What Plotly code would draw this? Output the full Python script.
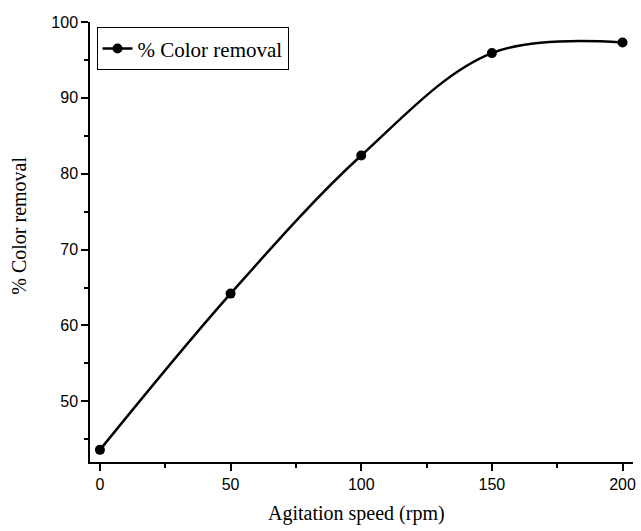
import plotly.graph_objects as go

speed = [0, 50, 100, 150, 200]
removal = [43.6, 64.2, 82.4, 95.9, 97.3]

fig = go.Figure()
fig.add_trace(go.Scatter(
    x=speed, y=removal, mode="lines+markers", name="% Color removal",
    line=dict(color="black", width=2.5, shape="spline", smoothing=1),
    marker=dict(color="black", size=10),
))

serif = "Liberation Serif, Times New Roman"
axis_common = dict(
    showline=True, linecolor="black", linewidth=1.5, mirror=False,
    ticks="outside", ticklen=7, tickwidth=1.5, tickcolor="black",
    showgrid=False, zeroline=False,
    tickfont=dict(family="Liberation Sans, Arial", size=16, color="black"),
)

fig.update_layout(
    width=641, height=531,
    margin=dict(l=90, r=5, t=22, b=69),
    paper_bgcolor="white", plot_bgcolor="white",
    xaxis=dict(range=[-3.8, 204], tickvals=[0, 50, 100, 150, 200],
               minor=dict(dtick=25, tick0=0, ticks="outside", ticklen=4, tickwidth=1.5, tickcolor="black"),
               **axis_common),
    yaxis=dict(range=[42, 100], tickvals=[50, 60, 70, 80, 90, 100],
               minor=dict(dtick=5, tick0=0, ticks="outside", ticklen=4, tickwidth=1.5, tickcolor="black"),
               **axis_common),
    showlegend=True,
    legend=dict(x=0.012, y=0.988, xanchor="left", yanchor="top",
                bordercolor="black", borderwidth=1, bgcolor="white",
                font=dict(family=serif, size=21, color="black"),
                itemwidth=30, tracegroupgap=0),
    annotations=[
        dict(text="Agitation speed (rpm)", xref="paper", yref="paper",
             x=0.491, y=-0.117, xanchor="center", yanchor="middle", showarrow=False,
             font=dict(family=serif, size=20, color="black")),
        dict(text="% Color removal", xref="paper", yref="paper",
             x=-0.130, y=0.538, xanchor="center", yanchor="middle", showarrow=False,
             textangle=-90, font=dict(family=serif, size=20, color="black")),
    ],
)

fig.write_html("out.html")
